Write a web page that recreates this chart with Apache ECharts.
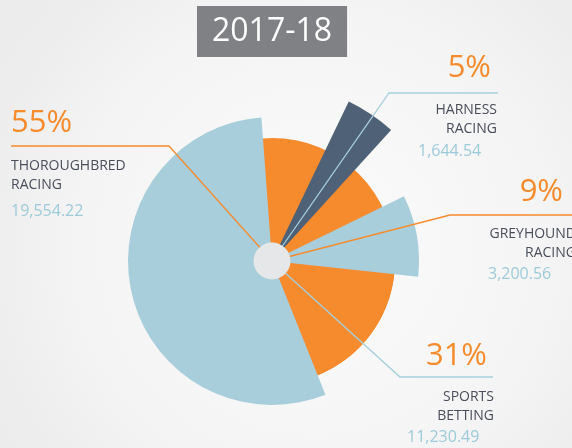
<!DOCTYPE html>
<html>
<head>
<meta charset="utf-8">
<title>2017-18</title>
<script src="https://cdn.jsdelivr.net/npm/echarts@6/dist/echarts.min.js"></script>
<style>
  html, body { margin: 0; padding: 0; }
  #chart { width: 572px; height: 448px; }
</style>
</head>
<body>
<div id="chart"></div>
<script>
// data
const categories = ['THOROUGHBRED\nRACING', 'HARNESS\nRACING', 'GREYHOUND\nRACING', 'SPORTS\nBETTING'];
const values = [19554.22, 1644.54, 3200.56, 11230.49];
const percentLabels = ['55%', '5%', '9%', '31%'];
const period = '2017-18';

const ORANGE = '#f68b2e';
const BLUE = '#a8cedb';
const SLATE = '#4e6176';
const LINE_BLUE = '#a6cfdd';
const TEXT = '#4a4e5b';
const VALUE = '#9ccadb';
const FONT = '"Open Sans", "Noto Sans", sans-serif';
const CENTER = [272, 261];

const total = values.reduce((a, b) => a + b, 0);

// per-slice look: outer radius, mid angle (deg clockwise from 12 o'clock), leader line and label spots
const looks = [
  { color: BLUE, radius: 144, mid: 257, z: 3, lineColor: ORANGE, elbow: [[11, 146], [169, 146]],
    align: 'left', x: 11, pctY: 123, nameY: 166, valX: 11, valY: 211 },
  { color: SLATE, radius: 177, mid: 34, z: 4, lineColor: LINE_BLUE, elbow: [[498, 93], [389, 93]],
    align: 'right', x: 497, pctX: 491, pctY: 68, nameY: 110, valX: 418, valY: 151 },
  { color: BLUE, radius: 147, mid: 80, z: 4, lineColor: ORANGE, elbow: [[572, 215], [450, 215]],
    align: 'right', x: 576, pctX: 563, pctY: 192, nameY: 234, valX: 488, valY: 274 },
  { color: ORANGE, radius: 123, mid: 150, z: 2, lineColor: LINE_BLUE, elbow: [[493, 377], [400, 377]],
    align: 'right', x: 494, pctX: 487, pctY: 356, nameY: 397, valX: 407, valY: 437 }
];

function fmt(v) {
  return v.toLocaleString('en-US', { minimumFractionDigits: 2, maximumFractionDigits: 2 });
}

function slicePie(i) {
  const l = looks[i];
  const span = values[i] / total * 360;
  let start = 90 - (l.mid - span / 2);
  start = ((start % 360) + 360) % 360;
  return {
    type: 'pie',
    name: categories[i],
    center: CENTER,
    radius: [0, l.radius],
    startAngle: start,
    clockwise: true,
    silent: true,
    z: l.z,
    label: { show: false },
    labelLine: { show: false },
    data: [
      { name: categories[i], value: values[i], itemStyle: { color: l.color } },
      { name: 'rest', value: total - values[i], itemStyle: { color: 'rgba(0,0,0,0)' } }
    ]
  };
}

let series = [
  {
    // orange base disc, the whole total
    type: 'pie',
    center: CENTER,
    radius: [0, 123],
    silent: true,
    z: 1,
    label: { show: false },
    labelLine: { show: false },
    data: values.map((v, i) => ({ name: categories[i], value: v, itemStyle: { color: ORANGE } }))
  }
];
for (let i = 0; i < values.length; i++) {
  series.push(slicePie(i));
}
series.push({
  type: 'pie',
  center: CENTER,
  radius: [0, 18.5],
  silent: true,
  z: 10,
  label: { show: false },
  labelLine: { show: false },
  data: [{ value: total, itemStyle: { color: '#e6e7e9' } }]
});

let graphics = [];
looks.forEach(function (l, i) {
  graphics.push({
    type: 'polyline',
    z: 6,
    silent: true,
    shape: { points: [l.elbow[0], l.elbow[1], CENTER] },
    style: { stroke: l.lineColor, lineWidth: 1.3, fill: null }
  });
  let names = categories[i].split('\n');
  graphics.push({
    type: 'text', z: 6, silent: true,
    style: {
      text: percentLabels[i], x: l.align === 'left' ? l.x : l.pctX, y: l.pctY,
      align: l.align, verticalAlign: 'middle',
      font: '31px ' + FONT, fill: ORANGE
    }
  });
  names.forEach(function (n, k) {
    graphics.push({
      type: 'text', z: 6, silent: true,
      style: {
        text: n, x: l.x, y: l.nameY + k * 19,
        align: l.align, verticalAlign: 'middle',
        font: '14px ' + FONT, fill: TEXT
      }
    });
  });
  graphics.push({
    type: 'text', z: 6, silent: true,
    style: {
      text: fmt(values[i]), x: l.valX, y: l.valY,
      align: 'left', verticalAlign: 'middle',
      font: '16px ' + FONT, fill: VALUE
    }
  });
});

let chart = echarts.init(document.getElementById('chart'));
chart.setOption({
  animation: false,
  backgroundColor: {
    type: 'radial', x: 0.55, y: 0.55, r: 0.8,
    colorStops: [
      { offset: 0, color: '#fbfbfb' },
      { offset: 0.6, color: '#f5f5f5' },
      { offset: 1, color: '#ececec' }
    ]
  },
  title: {
    text: period,
    left: 197,
    top: 6,
    backgroundColor: '#808184',
    padding: [9, 15, 9, 15],
    textStyle: { color: '#ffffff', fontSize: 32, lineHeight: 33, fontWeight: 'normal', fontFamily: FONT }
  },
  series: series,
  graphic: graphics
});
</script>
</body>
</html>
